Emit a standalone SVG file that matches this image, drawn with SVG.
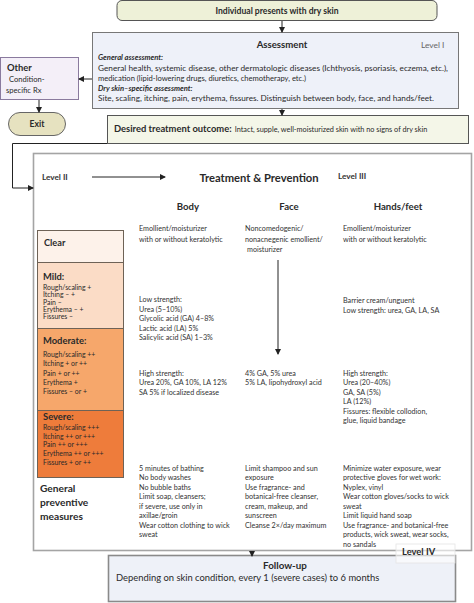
<svg xmlns="http://www.w3.org/2000/svg" width="474" height="603" viewBox="0 0 474 603">
<defs>
<marker id="ah" markerWidth="6" markerHeight="6" refX="5" refY="3" orient="auto" markerUnits="userSpaceOnUse">
<path d="M0,0 L6,3 L0,6 z" fill="#222"/>
</marker>
<style>
text{font-family:Lato,"Open Sans","Liberation Sans",sans-serif;fill:#2a2a2a}
.b{font-weight:bold}
.t{font-size:7.6px}
.s{font-size:7.2px;fill:#333}
.l{font-size:6.9px}
.h{font-size:9.6px;font-weight:bold}
.c{text-anchor:middle}
.conn{fill:none;stroke:#222;stroke-width:1}
.lv{font-size:8.2px;font-weight:bold;fill:#333}
</style>
</defs>
<rect width="474" height="603" fill="#ffffff"/>

<g id="start">
<rect x="117" y="0.5" width="320" height="20" rx="5" fill="#eef1d8" stroke="#555" stroke-width="1"/>
<text x="277" y="14" class="c b" font-size="8.6px">Individual presents with dry skin</text>
</g>

<g id="assessment">
<rect x="92.5" y="32.5" width="366" height="76" fill="#eef1f9" stroke="#777" stroke-width="1"/>
<text x="282" y="48" class="c b" font-size="9.6px">Assessment</text>
<text x="421" y="48" font-size="8.4px" style="fill:#666">Level I</text>
<text x="98" y="60" class="t b" font-style="italic">General assessment:</text>
<text x="98" y="70.5" class="t" textLength="350" lengthAdjust="spacingAndGlyphs">General health, systemic disease, other dermatologic diseases (Ichthyosis, psoriasis, eczema, etc.),</text>
<text x="98" y="80.5" class="t">medication (lipid-lowering drugs, diuretics, chemotherapy, etc.)</text>
<text x="98" y="90.5" class="t b" font-style="italic">Dry skin–specific assessment:</text>
<text x="98" y="101" class="t" textLength="336" lengthAdjust="spacingAndGlyphs">Site, scaling, itching, pain, erythema, fissures. Distinguish between body, face, and hands/feet.</text>
</g>

<g id="other">
<rect x="0.5" y="57.5" width="78" height="42" fill="#f4eff8" stroke="#8a7a9e" stroke-width="1"/>
<text x="7" y="71" class="b" font-size="9.4px">Other</text>
<text x="9" y="82" class="t">Condition-</text>
<text x="6" y="93" class="t">specific Rx</text>
</g>

<g id="exit">
<rect x="8.5" y="112.5" width="57" height="23" rx="11.5" fill="#e6e2c0" stroke="#666" stroke-width="1"/>
<text x="37" y="127" class="c b" font-size="8.6px">Exit</text>
</g>

<g id="outcome">
<rect x="107.5" y="115.5" width="361" height="28" fill="#f4f6e8" stroke="#555" stroke-width="1"/>
<text x="114" y="131.5"><tspan class="b" font-size="9.4px">Desired treatment outcome:</tspan><tspan font-size="7.3px" dx="3">Intact, supple, well-moisturized skin with no signs of dry skin</tspan></text>
</g>

<g id="treatment">
<rect x="33.5" y="153.5" width="438" height="397" fill="#ffffff" stroke="#a4a4a4" stroke-width="1.6"/>
<text x="42" y="180" class="lv">Level II</text>
<text x="259" y="182" class="c b" font-size="11.2px">Treatment &amp; Prevention</text>
<text x="338" y="179" class="lv">Level III</text>
<text x="188" y="210" class="c h">Body</text>
<text x="289" y="210" class="c h">Face</text>
<text x="398" y="210" class="c h">Hands/feet</text>

<text class="s" x="139" y="231">Emollient/moisturizer</text>
<text class="s" x="139" y="242">with or without keratolytic</text>
<text class="s" x="245" y="231">Noncomedogenic/</text>
<text class="s" x="245" y="242">nonacnegenic emollient/</text>
<text class="s" x="247" y="252">moisturizer</text>
<text class="s" x="343" y="231">Emollient/moisturizer</text>
<text class="s" x="343" y="242">with or without keratolytic</text>

<text class="s" x="139" y="302">Low strength:</text>
<text class="s" x="139" y="311.5">Urea (5–10%)</text>
<text class="s" x="139" y="321">Glycolic acid (GA) 4–8%</text>
<text class="s" x="139" y="330.5">Lactic acid (LA) 5%</text>
<text class="s" x="139" y="340">Salicylic acid (SA) 1–3%</text>
<text class="s" x="343" y="302.5">Barrier cream/unguent</text>
<text class="s" x="343" y="312.5">Low strength: urea, GA, LA, SA</text>

<text class="s" x="139" y="375.5">High strength:</text>
<text class="s" x="139" y="385">Urea 20%, GA 10%, LA 12%</text>
<text class="s" x="139" y="394.5">SA 5% if localized disease</text>
<text class="s" x="245" y="375.5">4% GA, 5% urea</text>
<text class="s" x="245" y="385">5% LA, lipohydroxyl acid</text>
<text class="s" x="343" y="375.5">High strength:</text>
<text class="s" x="343" y="385">Urea (20–40%)</text>
<text class="s" x="343" y="394.5">GA, SA (5%)</text>
<text class="s" x="343" y="404">LA (12%)</text>
<text class="s" x="343" y="413.5">Fissures: flexible collodion,</text>
<text class="s" x="343" y="423">glue, liquid bandage</text>

<text class="s" x="139" y="470.5">5 minutes of bathing</text>
<text class="s" x="139" y="480">No body washes</text>
<text class="s" x="139" y="489.5">No bubble baths</text>
<text class="s" x="139" y="499">Limit soap, cleansers;</text>
<text class="s" x="139" y="508.5">if severe, use only in</text>
<text class="s" x="139" y="518">axillae/groin</text>
<text class="s" x="139" y="527.5">Wear cotton clothing to wick</text>
<text class="s" x="139" y="537">sweat</text>

<text class="s" x="245" y="470.5">Limit shampoo and  sun</text>
<text class="s" x="245" y="480">exposure</text>
<text class="s" x="245" y="489.5">Use fragrance- and</text>
<text class="s" x="245" y="499">botanical-free cleanser,</text>
<text class="s" x="245" y="508.5">cream, makeup, and</text>
<text class="s" x="245" y="518">sunscreen</text>
<text class="s" x="245" y="527.5">Cleanse 2×/day maximum</text>

<text class="s" x="343" y="470.5">Minimize water exposure, wear</text>
<text class="s" x="343" y="480">protective gloves for wet work:</text>
<text class="s" x="343" y="489.5">Nyplex, vinyl</text>
<text class="s" x="343" y="499">Wear cotton gloves/socks to wick</text>
<text class="s" x="343" y="508.5">sweat</text>
<text class="s" x="343" y="518">Limit liquid hand soap</text>
<text class="s" x="343" y="527.5">Use fragrance- and botanical-free</text>
<text class="s" x="343" y="537">products, wick sweat, wear socks,</text>
<text class="s" x="343" y="546.5">no sandals</text>

<text x="40" y="492" class="b" font-size="10.2px">General</text>
<text x="40" y="506" class="b" font-size="10.2px">preventive</text>
<text x="40" y="520" class="b" font-size="10.2px">measures</text>
</g>

<g id="clear">
<rect x="37.5" y="230.5" width="86" height="32" fill="#fdf2ea" stroke="#6e6256" stroke-width="1"/>
<text x="44" y="246" class="b" font-size="9.2px">Clear</text>
</g>
<g id="mild">
<rect x="37.5" y="262.5" width="86" height="66" fill="#fbdcc6" stroke="#6e6256" stroke-width="1"/>
<text x="43" y="280" class="b" font-size="9.4px">Mild:</text>
<text x="43" y="290" class="l">Rough/scaling +</text>
<text x="43" y="297.3" class="l">Itching – +</text>
<text x="43" y="304.6" class="l">Pain –</text>
<text x="43" y="311.9" class="l">Erythema – +</text>
<text x="43" y="319.2" class="l">Fissures –</text>
</g>
<g id="moderate">
<rect x="37.5" y="328.5" width="86" height="82" fill="#f6a76b" stroke="#6e6256" stroke-width="1"/>
<text x="43" y="344" class="b" font-size="9.4px">Moderate:</text>
<text x="43" y="357" class="l">Rough/scaling ++</text>
<text x="43" y="366.3" class="l">Itching   + or ++</text>
<text x="43" y="375.6" class="l">Pain + or ++</text>
<text x="43" y="384.9" class="l">Erythema  +</text>
<text x="43" y="394.2" class="l">Fissures – or +</text>
</g>
<g id="severe">
<rect x="37.5" y="410.5" width="86" height="67" fill="#ee7c3b" stroke="#6e6256" stroke-width="1"/>
<text x="43" y="420" class="b" font-size="9.4px">Severe:</text>
<text x="43" y="430" class="l">Rough/scaling +++</text>
<text x="43" y="438.7" class="l">Itching   ++  or +++</text>
<text x="43" y="447.4" class="l">Pain ++ or +++</text>
<text x="43" y="456.1" class="l">Erythema  ++ or +++</text>
<text x="43" y="464.8" class="l">Fissures + or ++</text>
</g>

<g id="followup">
<rect x="108.5" y="555.5" width="347" height="46" fill="#eef1f8" stroke="#8a8a8a" stroke-width="1.6"/>
<text x="285" y="569" class="c b" font-size="9.8px">Follow-up</text>
<text x="116" y="581" font-size="9.4px">Depending on skin condition, every 1 (severe cases) to 6 months</text>
</g>

<g id="level4">
<rect x="396" y="544" width="59" height="19" fill="#ffffff" fill-opacity="0.6" stroke="#e4e4e4" stroke-width="0.8"/>
<text x="402" y="555" class="b" font-size="9.4px">Level IV</text>
</g>

<g id="connectors">
<path class="conn" d="M282 21 V32" marker-end="url(#ah)"/>
<path class="conn" d="M92 79 H79" marker-end="url(#ah)"/>
<path class="conn" d="M39 100 V112" marker-end="url(#ah)"/>
<path class="conn" d="M282 109 V115" marker-end="url(#ah)"/>
<path class="conn" d="M107 143.5 H12.5 V188 H33" marker-end="url(#ah)"/>
<path class="conn" d="M92 177 H165" marker-end="url(#ah)"/>
<path class="conn" d="M278 260 V354" marker-end="url(#ah)"/>
<path class="conn" d="M252 551 V556" marker-end="url(#ah)"/>
</g>
</svg>
